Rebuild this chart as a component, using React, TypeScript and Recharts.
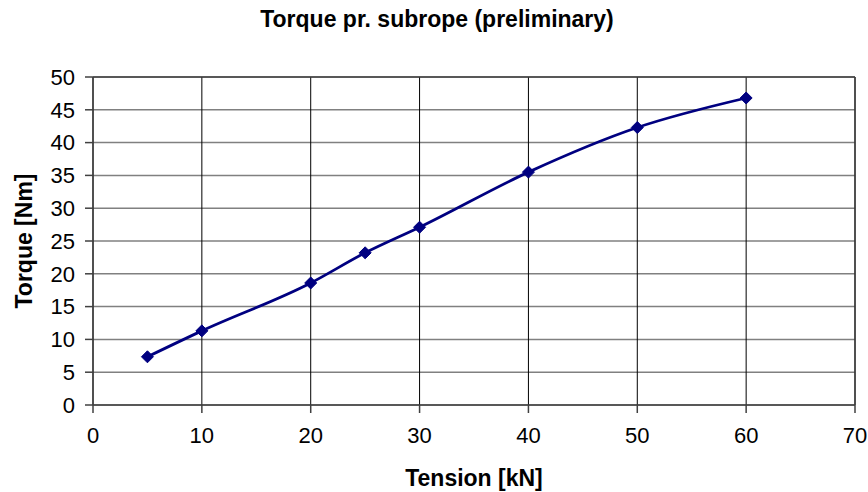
import React from "react";
import {
  LineChart,
  Line,
  XAxis,
  YAxis,
  CartesianGrid,
  ReferenceLine,
  Label,
} from "recharts";

const tension = [5, 10, 20, 25, 30, 40, 50, 60];
const torque = [7.35, 11.3, 18.6, 23.2, 27.1, 35.5, 42.3, 46.8];
const xTicks = [0, 10, 20, 30, 40, 50, 60, 70];
const yTicks = [0, 5, 10, 15, 20, 25, 30, 35, 40, 45, 50];

const data = tension.map((t, i) => ({ tension: t, torque: torque[i] }));

const FONT = "Arial, 'Liberation Sans', sans-serif";

const Diamond = (props: any) => {
  const { cx, cy } = props;
  if (cx == null || cy == null) return null;
  const r = 6;
  return (
    <path
      d={`M${cx},${cy - r} L${cx + r},${cy} L${cx},${cy + r} L${cx - r},${cy} Z`}
      fill="#000080"
      stroke="#000080"
    />
  );
};

export default function App() {
  return (
    <div style={{ width: 868, height: 492, background: "#fff", position: "relative" }}>
      <style>{"body{margin:0;}"}</style>
      <div
        style={{
          position: "absolute",
          left: 0,
          top: 6,
          width: 868,
          textAlign: "center",
          fontFamily: FONT,
          fontWeight: "bold",
          fontSize: 23,
          paddingLeft: 6,
          boxSizing: "border-box",
          color: "#000",
          zIndex: 1,
        }}
      >
        Torque pr. subrope (preliminary)
      </div>
      <LineChart
        width={868}
        height={492}
        data={data}
        margin={{ top: 77, right: 13, bottom: 0, left: 0 }}
        style={{ fontFamily: FONT }}
      >
        <CartesianGrid horizontal={true} vertical={false} stroke="#808080" strokeWidth={1.5} />
        <CartesianGrid horizontal={false} vertical={true} stroke="#000000" strokeWidth={1} />
        <ReferenceLine y={50} stroke="#404040" strokeWidth={1.5} />
        <ReferenceLine x={70} stroke="#404040" strokeWidth={1.5} />
        <XAxis
          dataKey="tension"
          type="number"
          domain={[0, 70]}
          ticks={xTicks}
          interval={0}
          stroke="#404040"
          strokeWidth={1.5}
          tickSize={8}
          tickMargin={14}
          tick={{ fill: "#000", fontSize: 22, fontFamily: FONT }}
          height={87}
        >
          <Label
            value="Tension [kN]"
            position="insideBottom"
            offset={6}
            style={{ fill: "#000", fontSize: 23, fontWeight: "bold", fontFamily: FONT }}
          />
        </XAxis>
        <YAxis
          type="number"
          domain={[0, 50]}
          ticks={yTicks}
          interval={0}
          stroke="#404040"
          strokeWidth={1.5}
          tickSize={8}
          tickMargin={10}
          width={93}
          tick={{ fill: "#000", fontSize: 22, fontFamily: FONT }}
        >
          <Label
            value="Torque [Nm]"
            angle={-90}
            position="insideLeft"
            offset={24}
            style={{
              fill: "#000",
              fontSize: 23,
              fontWeight: "bold",
              fontFamily: FONT,
              textAnchor: "middle",
            }}
          />
        </YAxis>
        <Line
          type="monotone"
          dataKey="torque"
          stroke="#000080"
          strokeWidth={2.8}
          dot={<Diamond />}
          activeDot={false}
          isAnimationActive={false}
        />
      </LineChart>
    </div>
  );
}
